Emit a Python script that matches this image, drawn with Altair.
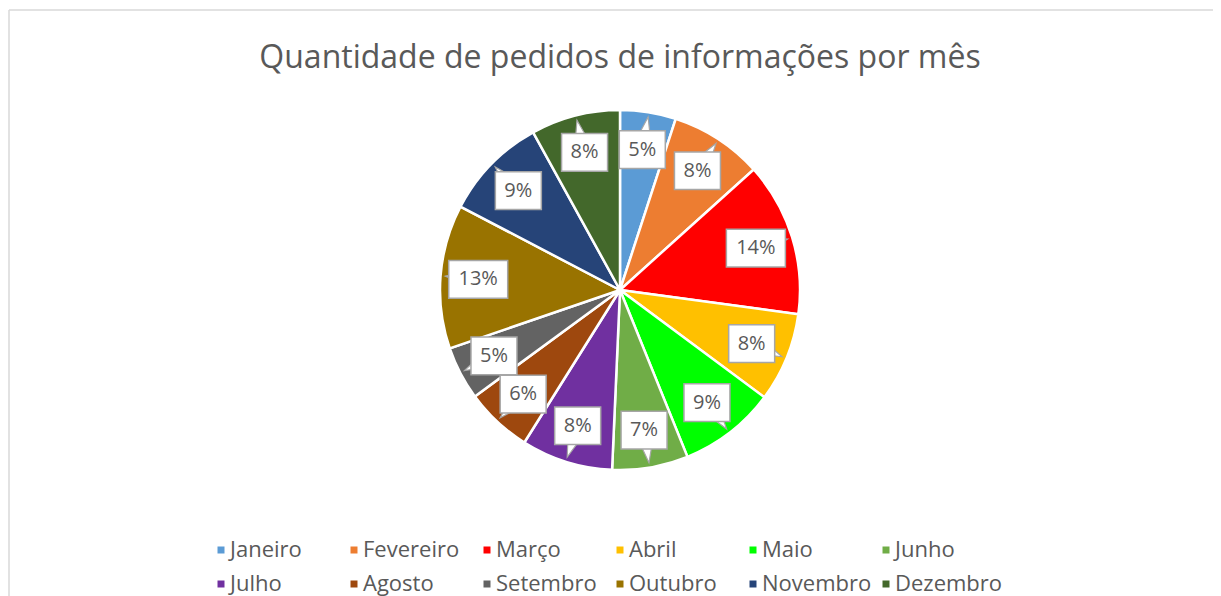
import altair as alt
import pandas as pd

title_text = "Quantidade de pedidos de informações por mês"
months = ["Janeiro", "Fevereiro", "Março", "Abril", "Maio", "Junho",
          "Julho", "Agosto", "Setembro", "Outubro", "Novembro", "Dezembro"]
values = [5.0, 8.3, 13.8, 8.0, 8.7, 6.8, 8.2, 6.0, 4.8, 12.9, 9.3, 8.0]
colors = ["#5B9BD5", "#ED7D31", "#FF0000", "#FFC000", "#00FF00", "#70AD47",
          "#7030A0", "#9E480E", "#636363", "#997300", "#264478", "#43682B"]

FONT = "Open Sans"
TXT = "#595959"
CX, CY, R = 612, 282, 180
W, H = 1205, 588

df = pd.DataFrame({"month": months, "value": values, "idx": list(range(len(months)))})

base = alt.Chart(df).transform_joinaggregate(total="sum(value)").transform_window(
    cum="sum(value)", sort=[alt.SortField("idx")], frame=[None, 0]
).transform_calculate(
    mid="2*PI*(datum.cum - datum.value/2)/datum.total",
    deg="datum.mid*180/PI",
    lx="0.79*sin(datum.mid)",
    ly="0.79*cos(datum.mid)",
    label="round(100*datum.value/datum.total) + '%'",
)

pie = alt.Chart(df).mark_arc(outerRadius=R, stroke="white", strokeWidth=2.5).encode(
    theta=alt.Theta("value:Q", stack=True),
    color=alt.Color(
        "month:N",
        sort=months,
        scale=alt.Scale(domain=months, range=colors),
        legend=alt.Legend(
            title=None, orient="none", legendX=202, legendY=531, columns=6,
            direction="horizontal",
            gridAlign="all", symbolType="square", symbolSize=49, symbolStrokeWidth=0,
            labelFont=FONT, labelFontSize=22, labelColor=TXT,
            labelOffset={"expr": "-2"},
            columnPadding=3, rowPadding=12, labelLimit=300,
        ),
    ),
    order=alt.Order("idx:Q"),
    x=alt.value(CX),
    y=alt.value(CY),
)

xs = alt.Scale(domain=[-1, 1], range=[CX - R, CX + R])
ys = alt.Scale(domain=[-1, 1], range=[CY + R, CY - R])

narrow = "M-1,-0.82L1,-0.82L1,0.82L-1,0.82Z"
wide = "M-1,-0.64L1,-0.64L1,0.64L-1,0.64Z"
tail = "M-0.17,-0.45L0.02,-1L0.17,-0.45Z"

tails = base.mark_point(filled=True, fill="white", stroke="#A6A6A6", strokeWidth=1.2, opacity=1).encode(
    x=alt.X("lx:Q", scale=xs, axis=None),
    y=alt.Y("ly:Q", scale=ys, axis=None),
    shape=alt.value(tail),
    size=alt.value(66 * 66),
    angle=alt.Angle("deg:Q", scale=None),
)

boxes = base.mark_point(filled=True, fill="white", stroke="#A6A6A6", strokeWidth=1.5, opacity=1).encode(
    x=alt.X("lx:Q", scale=xs, axis=None),
    y=alt.Y("ly:Q", scale=ys, axis=None),
    shape=alt.condition("length(datum.label) > 2", alt.value(wide), alt.value(narrow)),
    size=alt.condition("length(datum.label) > 2", alt.value(59 * 59), alt.value(46 * 46)),
)

labels = base.mark_text(font=FONT, fontSize=20, color=TXT, baseline="middle", align="center").encode(
    x=alt.X("lx:Q", scale=xs, axis=None),
    y=alt.Y("ly:Q", scale=ys, axis=None),
    text="label:N",
)

title = alt.Chart(pd.DataFrame({"t": [title_text]})).mark_text(
    font=FONT, fontSize=32, color=TXT, baseline="middle", align="center"
).encode(x=alt.value(CX), y=alt.value(50), text="t:N")

one = alt.Data(values=[{"a": 1}])
border_left = alt.Chart(one).mark_rule(color="#D9D9D9", strokeWidth=1.5).encode(
    x=alt.value(1), y=alt.value(2), y2=alt.value(H)
)
border_top = alt.Chart(one).mark_rule(color="#D9D9D9", strokeWidth=1.5).encode(
    x=alt.value(1), x2=alt.value(W), y=alt.value(2)
)

chart = alt.layer(border_left, border_top, pie, tails, boxes, labels, title).resolve_scale(
    x="shared", y="shared"
).properties(
    width=W, height=H, autosize=alt.AutoSizeParams(type="none"), padding=0
).configure_view(stroke=None)

chart.save("out.html", embed_options={"renderer": "svg", "actions": False})
